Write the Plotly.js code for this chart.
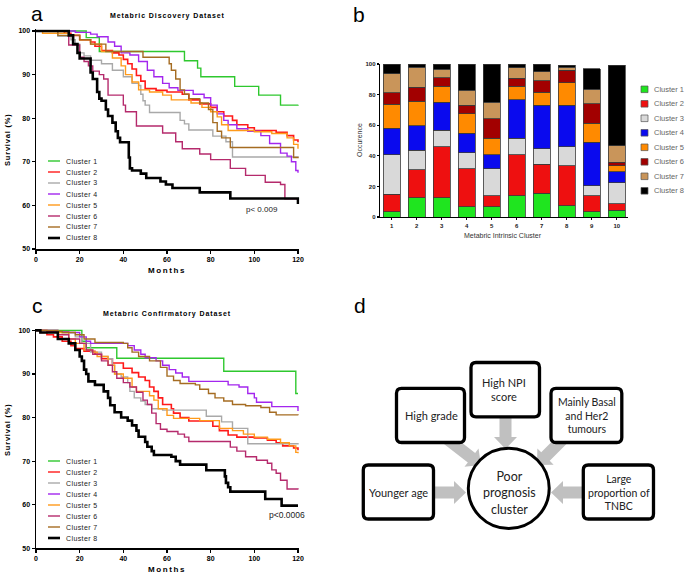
<!DOCTYPE html>
<html><head><meta charset="utf-8">
<script src="https://cdn.plot.ly/plotly-3.0.1.min.js"></script>
<style>html,body{margin:0;padding:0;background:#fff}#chart{width:685px;height:574px}</style>
</head><body><div id="chart"></div>
<script>
// ---------- DATA ----------
const clusterNames = ['Cluster 1','Cluster 2','Cluster 3','Cluster 4','Cluster 5','Cluster 6','Cluster 7','Cluster 8'];

// Panel a: Metabric Discovery Dataset (months, survival %)
const discC1_t = [0,23,29,68,74,75.5,91,102,112,120];
const discC1_s = [100,98.5,95.3,93.2,91.5,89.5,87.3,85.3,83.0,83.1];
const discC2_t = [0,13,16,20,25,27,30,35,38,40,42,44,46,48,50,55,60,67,70,75,80,83,86,90,92,97,100,110,115,118,120];
const discC2_s = [100,99.5,99,98,97.5,96.5,95.5,95,94.5,93.5,92.5,91.3,89.8,88.5,86.8,86.4,86,85.5,84.2,83.3,82.5,81.5,80.5,79.5,78.5,77.8,77.2,76.8,76,75,74.5];
const discC3_t = [0,10,16,18,20,22,25,30,35,40,44,47,48,49,50,52,66,68,70,81,87,90,120];
const discC3_s = [100,98.8,98,97,95,94.3,93.3,92.5,91,89.5,88,87.5,85.5,84,83,81.3,79.5,78.7,77.3,75.9,74.6,71.1,71.0];
const discC4_t = [0,18,25,28,33,36,39,43,47,51,54,58,61,65,72,77,80,83,86,88,92,97,103,107,112,115,117,119,120];
const discC4_s = [100,99.7,99.3,98.7,97.5,96.5,95,94.5,93,91,89.5,88,87,86.4,85.5,84.7,83,81,79.5,78.5,77.6,77,76,74.2,72,71.3,70,68,67.5];
const discC5_t = [0,3,15,20,25,30,35,39,41,44,47,52,58,62,71,76,80,83,85,88,100,108,115,118,120];
const discC5_s = [100,99.5,99,98,97,95.3,93.8,92,90,88.3,86.5,86,85.3,84.2,83.5,82.5,81.5,80.3,78.5,77.2,76.9,76.5,75.5,74,73];
const discC6_t = [0,15,20,22,24,26,29,31,33,40,41,46,58,64,67,75,80,89,96,105,112,114,120];
const discC6_s = [100,96.8,94,93,92,90.8,90,89,85.3,83,81.5,78.2,76.6,74.6,73,71.8,70.5,68.5,66.9,65.3,64.8,61.5,61.5];
const discC7_t = [0,10,20,25,32,49,61,62,64,66,68,70,75,79,81,83,85,89,115,118,120];
const discC7_s = [100,99,98,97,95.3,94,92.5,91,89,86.5,85.5,84.5,83.5,82,79,77,75.5,73.3,73.3,71,70.8];
const discC8_t = [0,15,17,19,20,25,26,28,29,30,32,33,35,36.5,37.5,38.5,42.5,43,44,48,50.5,57,59.5,62.5,75,89,120,120];
const discC8_s = [100,99,97,95,93.7,90.5,89,86,84.5,84,82,80.5,79,77,75.5,74.5,71,68.5,68,67.3,66.3,65.5,64.8,64,63,61.6,61.6,60.3];

// Panel c: Metabric Confirmatory Dataset (months, survival %)
const confC1_t = [0,21,23,37,86,119,120];
const confC1_s = [100,97.5,96,93.6,90.6,85.5,85.5];
const confC2_t = [0,2,5,8,12,16,18,22,27,30,35,40,44,47,50,52,54,56,58,62,63,66,70,80,81,84,88,92,100,106,110,113,118,120];
const confC2_s = [100,99.5,99,98.5,97.5,96.5,95.8,95.2,94.5,93.5,92.5,91.3,90.3,89.3,88.5,87,86,84.5,83,82,81,80,79.2,79.2,78,77,76,75.5,75.3,74.8,74.2,73.5,73,72.5];
const confC3_t = [0,10,12,18,21,25,30,33,35,36,39,42,43,45,48,50,53,58,78,85,90,97,120];
const confC3_s = [100,99.7,99.5,98.5,97,95,94,93.5,92,90,89.3,88,86,84.5,83.8,83,82,81.7,80.3,79,77.5,74,73.8];
const confC4_t = [0,10,15,20,23,25,40,42,45,48,50,55,58,61,64,67,70,87,88,93,97,100,101,108,119,120];
const confC4_s = [100,99.7,99.5,98.5,97.5,97,97,96.5,95.5,94.5,93.7,93,92,91,90.2,89.3,88.3,88.3,87.5,87,85.5,84.5,83.5,82.5,82.5,81.5];
const confC5_t = [0,5,10,15,18,22,26,28,33,36,40,44,46,52,54,56,60,63,75,84,90,95,100,106,112,116,119,120];
const confC5_s = [100,99.8,99.5,98,97,95.5,95,94,92,90,89,87,86,85,84,82,80.5,79.8,79.3,77.5,77,76.2,75.5,75,74.2,73.5,72,71.8];
const confC6_t = [0,5,10,15,20,23,26,30,33,35,37,40,43,46,49,51,53,55,57,60,65,68,70,89,92,96,101,106,108,110,112,115,120];
const confC6_s = [100,99.7,99,98,97,95.5,94.5,93,92,90.5,89,88,87,85.8,84,83,81,78.6,77.3,76.8,76.2,75.5,74.5,73.2,72.3,71,70.2,69.5,68,67.2,65.6,63.6,63.5];
const confC7_t = [0,10,12,18,22,27,40,42,44,47,52,57,60,63,66,73,75,79,82,86,90,96,103,107,110,120];
const confC7_s = [100,99.8,99.5,99,98,97.2,97,96,95,94,93,91.5,89.5,88.5,87.8,87.5,86.5,85.5,84.5,83.8,83,82.7,82.3,81.2,80.6,80.5];
const confC8_t = [0,2,10,15,18,20,21,22,23,24,27,31,33,34,36,39,42,44,46,47,50,51,53,54,62,64,66,78,86.5,87,88,89,105,112.5,120];
const confC8_s = [100,99.5,98,97,95.5,94,93,91,90,88.3,87.5,86,84.5,82.8,81.2,80,79.3,78.2,77,75.6,74.4,73.3,72.3,71.4,71,70,69.2,67.9,66.5,65,64,63,61.3,59.8,59.8];

// Panel b: occurrence (%) of each cluster per Metabric intrinsic cluster
const intrinsicClusters = [1,2,3,4,5,6,7,8,9,10];
const barC1 = [3.5,12.7,12.7,6.6,6.6,13.8,15.5,7.4,3.5,4.4];
const barC2 = [11.3,18.1,33.2,25.1,7.2,26.8,19.0,26.2,10.3,4.3];
const barC3 = [25.8,12.9,10.9,10.4,17.6,10.9,10.0,12.3,6.7,13.8];
const barC4 = [17.3,16.1,18.3,12.7,9.2,25.1,28.4,27.0,28.2,7.2];
const barC5 = [15.7,15.7,10.5,12.7,10.9,9.0,8.5,14.7,12.7,3.7];
const barC6 = [7.6,9.4,5.4,5.4,12.7,5.2,7.7,8.3,12.6,2.4];
const barC7 = [12.5,13.1,5.7,9.9,10.7,6.6,5.7,2.1,9.6,10.7];
const barC8 = [6.3,2.0,3.3,17.2,25.1,2.6,5.2,1.1,13.3,52.6];

const pDiscovery = 'p< 0.009';
const pConfirmatory = 'p<0.0006';

// ---------- STYLE ----------
const W = 685, H = 574;
const X = v => v / W, Y = v => 1 - v / H;
const kmColors = ['#2ec82e','#ff1a1a','#a9a9a9','#a326ee','#ff9a1a','#b52a6c','#a56c22','#000000'];
const kmWidths = [1.4,1.6,1.4,1.4,1.4,1.4,1.4,2.6];
const barColors = ['#1fe51f','#ee1010','#d9d9d9','#0a0aee','#ff8a00','#a20000','#c9955a','#000000'];
const FONT = 'Liberation Sans, Arial, sans-serif';
const spaced = (t, s) => `<span style="letter-spacing:${s}px">${t}</span>`;

const discT = [discC1_t,discC2_t,discC3_t,discC4_t,discC5_t,discC6_t,discC7_t,discC8_t];
const discS = [discC1_s,discC2_s,discC3_s,discC4_s,discC5_s,discC6_s,discC7_s,discC8_s];
const confT = [confC1_t,confC2_t,confC3_t,confC4_t,confC5_t,confC6_t,confC7_t,confC8_t];
const confS = [confC1_s,confC2_s,confC3_s,confC4_s,confC5_s,confC6_s,confC7_s,confC8_s];
const bars = [barC1,barC2,barC3,barC4,barC5,barC6,barC7,barC8];

const traces = [];
clusterNames.forEach((name, i) => {
  traces.push({type:'scatter', mode:'lines', name, x:discT[i], y:discS[i], xaxis:'x', yaxis:'y',
    line:{shape:'hv', color:kmColors[i], width:kmWidths[i]}, showlegend:false, hoverinfo:'skip'});
});
clusterNames.forEach((name, i) => {
  traces.push({type:'scatter', mode:'lines', name, x:confT[i], y:confS[i], xaxis:'x3', yaxis:'y3',
    line:{shape:'hv', color:kmColors[i], width:kmWidths[i]}, showlegend:false, hoverinfo:'skip'});
});
clusterNames.forEach((name, i) => {
  traces.push({type:'bar', name, x:intrinsicClusters, y:bars[i], xaxis:'x2', yaxis:'y2', width:0.67,
    marker:{color:barColors[i], line:{color:'#3a3a3a', width:0.8}}, showlegend:false, hoverinfo:'skip'});
});

const axBase = {showgrid:false, zeroline:false, showline:true, linecolor:'#000', linewidth:1.5,
  ticks:'outside', ticklen:3, tickwidth:1.2, tickcolor:'#000',
  tickfont:{family:FONT, size:7, color:'#000', weight:700}, fixedrange:true};

const kmX = (dom) => Object.assign({}, axBase, {domain:dom, range:[0,120.6], tickvals:[0,20,40,60,80,100,120]});
const kmY = (dom) => Object.assign({}, axBase, {domain:dom, range:[50,100.4], tickvals:[50,60,70,80,90,100]});

const annotations = [];
const shapes = [];
const ann = (text, x, y, o) => annotations.push(Object.assign({text, x:X(x), y:Y(y), xref:'paper', yref:'paper',
  showarrow:false, xanchor:'center', yanchor:'middle', font:{family:FONT, size:7, color:'#000'}}, o||{}));

// Panel letters
ann('a', 37, 13, {font:{family:FONT, size:21, color:'#000'}});
ann('b', 359, 14, {font:{family:FONT, size:21, color:'#000'}});
ann('c', 37, 306, {font:{family:FONT, size:21, color:'#000'}});
ann('d', 360, 305, {font:{family:FONT, size:21, color:'#000'}});

// Panel a & c titles/labels
ann(spaced('Metabric Discovery Dataset', 0.9), 167, 16, {font:{family:FONT, size:7, color:'#000', weight:700}});
ann(spaced('Metabric Confirmatory Dataset', 0.9), 167, 314, {font:{family:FONT, size:7, color:'#000', weight:700}});
ann(spaced('Survival (%)', 0.8), 7, 140, {textangle:-90, font:{family:FONT, size:7.5, color:'#000', weight:700}});
ann(spaced('Survival (%)', 0.8), 7, 430, {textangle:-90, font:{family:FONT, size:7.5, color:'#000', weight:700}});
ann(spaced('Months', 1.6), 167, 270, {font:{family:FONT, size:8, color:'#000', weight:700}});
ann(spaced('Months', 1.6), 167, 569, {font:{family:FONT, size:8, color:'#000', weight:700}});
ann(pDiscovery, 262, 209, {font:{family:FONT, size:8, color:'#222'}});
ann(pConfirmatory, 287, 515, {font:{family:FONT, size:8.5, color:'#222'}});

// KM legends
[161, 461].forEach(y0 => {
  clusterNames.forEach((name, i) => {
    const yy = y0 + 11 * i;
    shapes.push({type:'line', xref:'paper', yref:'paper', x0:X(48), x1:X(60), y0:Y(yy), y1:Y(yy),
      line:{color:kmColors[i], width:i===7 ? 2.6 : 1.4}});
    ann(spaced(name, 0.4), 64, yy, {xanchor:'left', font:{family:FONT, size:7, color:'#222'}});
  });
});

// Panel b labels and legend
ann('Occurence', 359, 140, {textangle:-90, font:{family:FONT, size:7, color:'#333'}});
ann('Metabric Intrinsic Cluster', 503, 235, {font:{family:FONT, size:7, color:'#333'}});
clusterNames.forEach((name, i) => {
  const yy = 89.3 + 14.5 * i;
  shapes.push({type:'rect', xref:'paper', yref:'paper', x0:X(641), x1:X(648), y0:Y(yy-3.3), y1:Y(yy+3.3),
    fillcolor:barColors[i], line:{color:'#555', width:0.7}});
  ann(name, 652, yy, {xanchor:'left', font:{family:FONT, size:7.5, color:'#666'}});
});

// Panel d diagram
const P = (x, y) => `${X(x).toFixed(5)},${Y(y).toFixed(5)}`;
function roundRect(x0, y0, x1, y1, r) {
  return `M${P(x0+r,y0)} L${P(x1-r,y0)} Q${P(x1,y0)} ${P(x1,y0+r)} L${P(x1,y1-r)} Q${P(x1,y1)} ${P(x1-r,y1)} ` +
         `L${P(x0+r,y1)} Q${P(x0,y1)} ${P(x0,y1-r)} L${P(x0,y0+r)} Q${P(x0,y0)} ${P(x0+r,y0)} Z`;
}
function blockArrow(x0, y0, x1, y1, sw, hw, hl) {
  const dx = x1-x0, dy = y1-y0, L = Math.hypot(dx, dy);
  const ux = dx/L, uy = dy/L, nx = -uy, ny = ux;
  const bx = x1 - ux*hl, by = y1 - uy*hl;
  const pts = [
    [x0+nx*sw/2, y0+ny*sw/2], [bx+nx*sw/2, by+ny*sw/2], [bx+nx*hw/2, by+ny*hw/2], [x1, y1],
    [bx-nx*hw/2, by-ny*hw/2], [bx-nx*sw/2, by-ny*sw/2], [x0-nx*sw/2, y0-ny*sw/2]];
  return 'M' + pts.map(p => P(p[0], p[1])).join(' L') + ' Z';
}
const arrowColor = '#c0c0c0';
[[430, 492.5, 466, 492.5], [587, 492.5, 551, 492.5], [505.5, 415, 505.5, 449],
 [446, 438, 481, 465], [564, 438, 537, 465]].forEach(a => {
  shapes.push({type:'path', xref:'paper', yref:'paper', path:blockArrow(a[0],a[1],a[2],a[3],12,23,12),
    fillcolor:arrowColor, line:{width:0}});
});
const boxes = [[396.5,388.3,464.5,442.5],[471,362.5,539.5,416.8],[551,388.3,621.8,442.5],
               [363.3,465,433.5,519],[583.3,465,653.5,519]];
boxes.forEach(b => shapes.push({type:'path', xref:'paper', yref:'paper', path:roundRect(b[0],b[1],b[2],b[3],5),
  fillcolor:'#fff', line:{color:'#000', width:3.3}}));
shapes.push({type:'circle', xref:'paper', yref:'paper', x0:X(468.3), x1:X(549.2), y0:Y(528.5), y1:Y(448.2),
  fillcolor:'#fff', line:{color:'#000', width:3}});
const DF = 'Lato, Open Sans, sans-serif';
ann('High grade', 431, 415.5, {font:{family:DF, size:11, color:'#222'}});
ann('High NPI<br>score', 504, 389.5, {font:{family:DF, size:11, color:'#222'}});
ann('Mainly Basal<br>and Her2<br>tumours', 586.5, 415, {font:{family:DF, size:10.5, color:'#222'}});
ann('Younger age', 398.5, 492.5, {font:{family:DF, size:11, color:'#222'}});
ann('Large<br>proportion of<br>TNBC', 618.5, 492.5, {font:{family:DF, size:10.5, color:'#222'}});
ann('Poor<br>prognosis<br>cluster', 509, 493, {font:{family:DF, size:12.5, color:'#222'}});

const layout = {
  width: W, height: H, margin:{l:0, r:0, t:0, b:0}, paper_bgcolor:'#fff', plot_bgcolor:'rgba(0,0,0,0)',
  barmode:'stack', showlegend:false,
  xaxis: Object.assign(kmX([X(36), X(299.3)]), {anchor:'y'}),
  yaxis: Object.assign(kmY([Y(249), Y(29.3)]), {anchor:'x'}),
  xaxis3: Object.assign(kmX([X(36), X(299.3)]), {anchor:'y3'}),
  yaxis3: Object.assign(kmY([Y(548.3), Y(328.6)]), {anchor:'x3'}),
  xaxis2: Object.assign({}, axBase, {anchor:'y2', domain:[X(380), X(628)], range:[0.53, 10.45],
    tickvals:intrinsicClusters, linewidth:1.3, ticklen:2, tickfont:{family:FONT, size:6, color:'#222', weight:700}}),
  yaxis2: Object.assign({}, axBase, {anchor:'x2', domain:[Y(217), Y(64)], range:[0, 100],
    tickvals:[0,20,40,60,80,100], linewidth:1.3, ticklen:2, tickfont:{family:FONT, size:6, color:'#222', weight:700}}),
  annotations, shapes
};
Plotly.newPlot('chart', traces, layout, {displayModeBar:false, staticPlot:true});
</script></body></html>
